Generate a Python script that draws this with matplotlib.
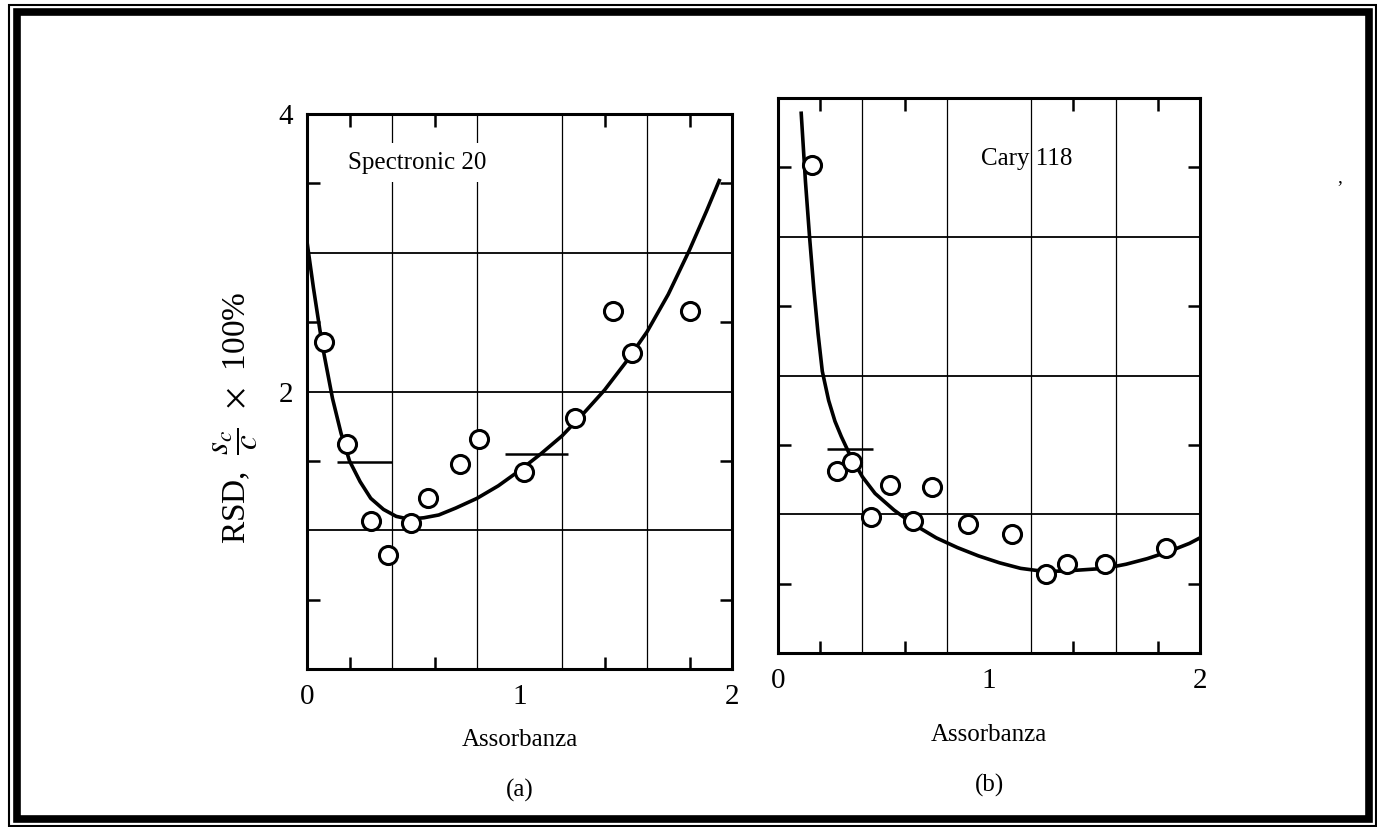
import matplotlib.pyplot as plt
from matplotlib.patches import Rectangle

plt.rcParams['font.family'] = ['Liberation Serif', 'DejaVu Serif']
plt.rcParams['mathtext.fontset'] = 'stix'

W, H = 1377, 827

# (a) Spectronic 20 - measured points
spec_x = [0.08, 0.19, 0.30, 0.38, 0.49, 0.57, 0.72, 0.81, 1.02, 1.26, 1.44, 1.53, 1.80]
spec_y = [2.36, 1.62, 1.07, 0.82, 1.05, 1.23, 1.48, 1.66, 1.42, 1.81, 2.58, 2.28, 2.58]
# (a) theoretical curve
spec_curve_x = [0.0, 0.03, 0.06, 0.08, 0.12, 0.16, 0.20, 0.25, 0.30, 0.36, 0.42, 0.48, 0.55,
                0.62, 0.70, 0.80, 0.90, 1.00, 1.10, 1.20, 1.30, 1.40, 1.50, 1.60, 1.70,
                1.80, 1.88, 1.94]
spec_curve_y = [3.08, 2.75, 2.45, 2.27, 1.95, 1.70, 1.50, 1.35, 1.23, 1.15, 1.10, 1.08, 1.09,
                1.11, 1.16, 1.23, 1.32, 1.43, 1.55, 1.68, 1.84, 2.01, 2.21, 2.43, 2.70,
                3.02, 3.30, 3.52]
spec_bar_x0 = [0.14, 0.93]
spec_bar_x1 = [0.40, 1.23]
spec_bar_y = [1.49, 1.55]

# (b) Cary 118 - measured points
cary_x = [0.16, 0.28, 0.35, 0.44, 0.53, 0.64, 0.73, 0.90, 1.11, 1.27, 1.37, 1.55, 1.84]
cary_y = [3.52, 1.31, 1.38, 0.98, 1.21, 0.95, 1.20, 0.93, 0.86, 0.57, 0.64, 0.64, 0.76]
cary_curve_x = [0.11, 0.13, 0.15, 0.17, 0.19, 0.21, 0.24, 0.27, 0.30, 0.34, 0.40, 0.46, 0.55,
                0.64, 0.75, 0.85, 0.95, 1.05, 1.15, 1.25, 1.35, 1.45, 1.55, 1.65, 1.75,
                1.85, 1.95, 2.0]
cary_curve_y = [3.89, 3.40, 2.99, 2.62, 2.30, 2.03, 1.82, 1.67, 1.56, 1.43, 1.27, 1.15, 1.03,
                0.93, 0.83, 0.76, 0.70, 0.65, 0.61, 0.59, 0.59, 0.60, 0.61, 0.64, 0.68,
                0.73, 0.79, 0.83]
cary_bar_x0 = [0.23]
cary_bar_x1 = [0.45]
cary_bar_y = [1.47]

grid_x = [0.4, 0.8, 1.2, 1.6]
grid_y = [1, 2, 3]
minor_x = [0.2, 0.6, 1.0, 1.4, 1.8]
minor_y = [0.5, 1.5, 2.5, 3.5]


def px_box(left, top, right, bottom):
    return [left / W, 1 - bottom / H, (right - left) / W, (bottom - top) / H]


def draw_panel(ax, px, py, cx, cy, bx0, bx1, by, name, name_xy, tag, show_y, lab_y):
    ax.set_xlim(0, 2)
    ax.set_ylim(0, 4)
    for g in grid_x:
        ax.axvline(g, color='black', lw=0.9, zorder=1)
    for g in grid_y:
        ax.axhline(g, color='black', lw=1.3, zorder=1)
    ax.plot(cx, cy, color='black', lw=2.6, zorder=3)
    ax.hlines(by, bx0, bx1, color='black', lw=1.8, zorder=3)
    ax.plot(px, py, 'o', ms=13, mfc='white', mec='black', mew=2.2, zorder=4)

    ax.set_xticks([0, 1, 2])
    ax.set_xticklabels(['0', '1', '2'])
    ax.set_xticks(minor_x, minor=True)
    ax.set_yticks(minor_y, minor=True)
    if show_y:
        ax.set_yticks([2, 4])
        ax.set_yticklabels(['2', '4'])
    else:
        ax.set_yticks([])
    ax.tick_params(which='major', length=0, labelsize=21, pad=11)
    ax.tick_params(axis='y', which='major', pad=10)
    ax.tick_params(which='minor', direction='in', length=9, width=1.8,
                   top=True, right=True, bottom=True, left=True)
    for s in ax.spines.values():
        s.set_linewidth(2.2)

    bbox = dict(facecolor='white', edgecolor='none', pad=6) if show_y else None
    ax.text(name_xy[0], name_xy[1], name, fontsize=18, ha='center', va='center',
            bbox=bbox, zorder=2)
    ax.text(0.5, lab_y[0], 'Assorbanza', transform=ax.transAxes, fontsize=18,
            ha='center', va='center')
    ax.text(0.5, lab_y[1], tag, transform=ax.transAxes, fontsize=18,
            ha='center', va='center')


fig = plt.figure(figsize=(W / 100, H / 100), dpi=100)
ax1 = fig.add_axes(px_box(307, 114, 732, 669))
ax2 = fig.add_axes(px_box(778, 98, 1200, 653))

draw_panel(ax1, spec_x, spec_y, spec_curve_x, spec_curve_y,
           spec_bar_x0, spec_bar_x1, spec_bar_y, 'Spectronic 20', (0.52, 3.65), '(a)', True,
           (-0.128, -0.218))
draw_panel(ax2, cary_x, cary_y, cary_curve_x, cary_curve_y,
           cary_bar_x0, cary_bar_x1, cary_bar_y, 'Cary 118', (1.18, 3.56), '(b)', False,
           (-0.148, -0.238))

fig.text(236 / W, 1 - 418 / H, r'RSD,  $\dfrac{s_c}{c}$  $\times$  100%', rotation=90,
         fontsize=24, ha='center', va='center')

# stray scan marks
fig.text(1340 / W, 1 - 178 / H, ',', fontsize=14, ha='center', va='center')

# double frame round the page
fig.add_artist(Rectangle((9 / W, 1 - 826 / H), 1367 / W, 821 / H, transform=fig.transFigure,
                         fill=False, lw=1.5, ec='black'))
fig.add_artist(Rectangle((16.5 / W, 1 - 819 / H), 1352.5 / W, 807 / H, transform=fig.transFigure,
                         fill=False, lw=5.5, ec='black'))

fig.savefig('out.png', dpi=100, facecolor='white')
